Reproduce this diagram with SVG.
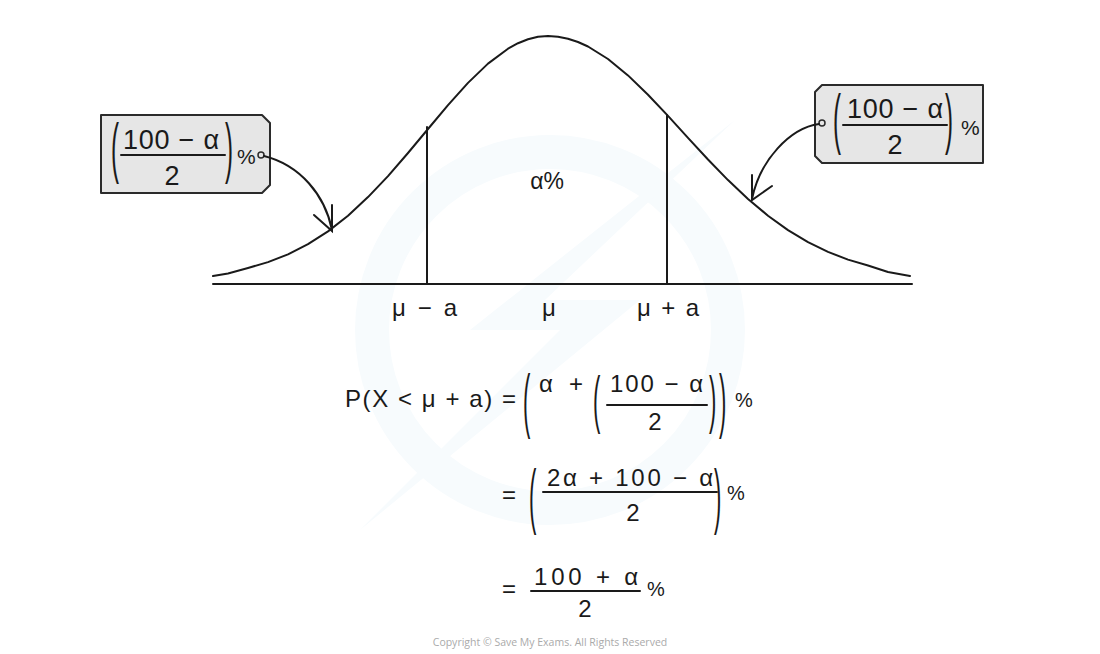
<svg xmlns="http://www.w3.org/2000/svg" width="1100" height="654" viewBox="0 0 1100 654">
<style>
.t{font-family:"Liberation Sans",Arial,sans-serif;fill:#1a1a1a}
.ln{stroke:#1a1a1a;stroke-width:2;fill:none;stroke-linecap:round}
.tag{fill:#e6e6e6;stroke:#2b2b2b;stroke-width:2;stroke-linejoin:round}
.hole{fill:#e6e6e6;stroke:#2b2b2b;stroke-width:1.5}
.wm{fill:#f7fbfd}
</style>
<rect width="1100" height="654" fill="#ffffff"/>
<g id="watermark">
<circle cx="550" cy="330" r="178" fill="none" stroke="#f7fbfd" stroke-width="34"/>
<polygon class="wm" points="735,120 470,330 560,330 360,530 640,300 545,300"/>
</g>
<g id="axis">
<path class="ln" d="M213,284 H912" stroke-width="2.5"/>
<path class="ln" d="M213,276 L228,273.5 248,268 268,262.1 288,254.4 308,244.2 328,231.4 348,215.7 368,197.1 388,176.1 408,153 428,129 448,105.2 468,82.9 488,63.6 508,48.7 518,43.2 528,39.2 538,36.8 548,36 558,36.7 568,38.7 578,42 588,46.5 608,59 628,75.4 648,94.8 668,115.9 688,137.8 708,159.5 728,180.1 748,198.9 768,215.7 788,230.1 808,242.1 828,251.9 848,259.6 868,265.5 888,272 910,276" stroke-linejoin="round"/>
<path class="ln" d="M427,127 V284"/>
<path class="ln" d="M667,115 V284"/>
<text class="t" x="392" y="316" font-size="24" textLength="65" lengthAdjust="spacing">μ − a</text>
<text class="t" x="549" y="316" font-size="24" text-anchor="middle">μ</text>
<text class="t" x="637" y="316" font-size="24" textLength="62" lengthAdjust="spacing">μ + a</text>
<text class="t" x="547" y="189" font-size="23" text-anchor="middle">α%</text>
</g>
<g id="tag-left">
<path class="tag" d="M101,115 H262 L270,123 V185 L262,193 H101 Z"/>
<circle class="hole" cx="261" cy="155" r="3"/>
<text class="t" font-size="24" transform="translate(111,170) scale(1,2.8)">(</text>
<text class="t" x="123" y="149" font-size="27" textLength="96" lengthAdjust="spacing">100 − α</text>
<path class="ln" d="M121,155 H225"/>
<text class="t" x="172" y="185" font-size="27" text-anchor="middle">2</text>
<text class="t" font-size="24" transform="translate(225,170) scale(1,2.8)">)</text>
<text class="t" x="237" y="164" font-size="21">%</text>
</g>
<g id="tag-right">
<path class="tag" d="M822,85 H983 V163 H822 L815,156 V92 Z"/>
<circle class="hole" cx="822" cy="123" r="3"/>
<text class="t" font-size="24" transform="translate(833,141) scale(1,2.75)">(</text>
<text class="t" x="847" y="118" font-size="27" textLength="96" lengthAdjust="spacing">100 − α</text>
<path class="ln" d="M843,125 H947"/>
<text class="t" x="895" y="154" font-size="27" text-anchor="middle">2</text>
<text class="t" font-size="24" transform="translate(945,141) scale(1,2.75)">)</text>
<text class="t" x="961" y="135" font-size="21">%</text>
</g>
<g id="connectors">
<path class="ln" d="M264,156 C300,165 325,195 332,230"/>
<path class="ln" d="M314,215 L332,231 L332,205"/>
<path class="ln" d="M819,124 C790,128 760,160 752,199"/>
<path class="ln" d="M752,175 L752,200 L772,186"/>
</g>
<g id="equation-1">
<text class="t" x="345" y="407" font-size="24" textLength="171" lengthAdjust="spacing">P(X &lt; μ + a) =</text>
<text class="t" font-size="22" transform="translate(523,424) scale(1,3.2)">(</text>
<text class="t" x="539" y="392" font-size="24" textLength="44" lengthAdjust="spacing">α +</text>
<text class="t" font-size="22" transform="translate(593,421) scale(1,2.9)">(</text>
<text class="t" x="610" y="392" font-size="24" textLength="93" lengthAdjust="spacing">100 − α</text>
<path class="ln" d="M607,405 H707"/>
<text class="t" x="655" y="430" font-size="24" text-anchor="middle">2</text>
<text class="t" font-size="22" transform="translate(709,421) scale(1,2.9)">)</text>
<text class="t" font-size="22" transform="translate(719,424) scale(1,3.2)">)</text>
<text class="t" x="735" y="407" font-size="20">%</text>
</g>
<g id="equation-2">
<text class="t" x="502" y="503" font-size="24">=</text>
<text class="t" font-size="22" transform="translate(529,520) scale(1,3.3)">(</text>
<text class="t" x="547" y="486" font-size="24" textLength="166" lengthAdjust="spacing">2α + 100 − α</text>
<path class="ln" d="M543,492 H717"/>
<text class="t" x="633" y="521" font-size="24" text-anchor="middle">2</text>
<text class="t" font-size="22" transform="translate(714,520) scale(1,3.3)">)</text>
<text class="t" x="727" y="500" font-size="20">%</text>
</g>
<g id="equation-3">
<text class="t" x="502" y="597" font-size="24">=</text>
<text class="t" x="534" y="585" font-size="24" textLength="104" lengthAdjust="spacing">100 + α</text>
<path class="ln" d="M531,591 H640"/>
<text class="t" x="585" y="617" font-size="24" text-anchor="middle">2</text>
<text class="t" x="647" y="596" font-size="20">%</text>
</g>
<text x="550" y="646" font-family="'Open Sans','Liberation Sans',sans-serif" font-size="10.5" fill="#aaaaaa" text-anchor="middle">Copyright © Save My Exams. All Rights Reserved</text>
</svg>
